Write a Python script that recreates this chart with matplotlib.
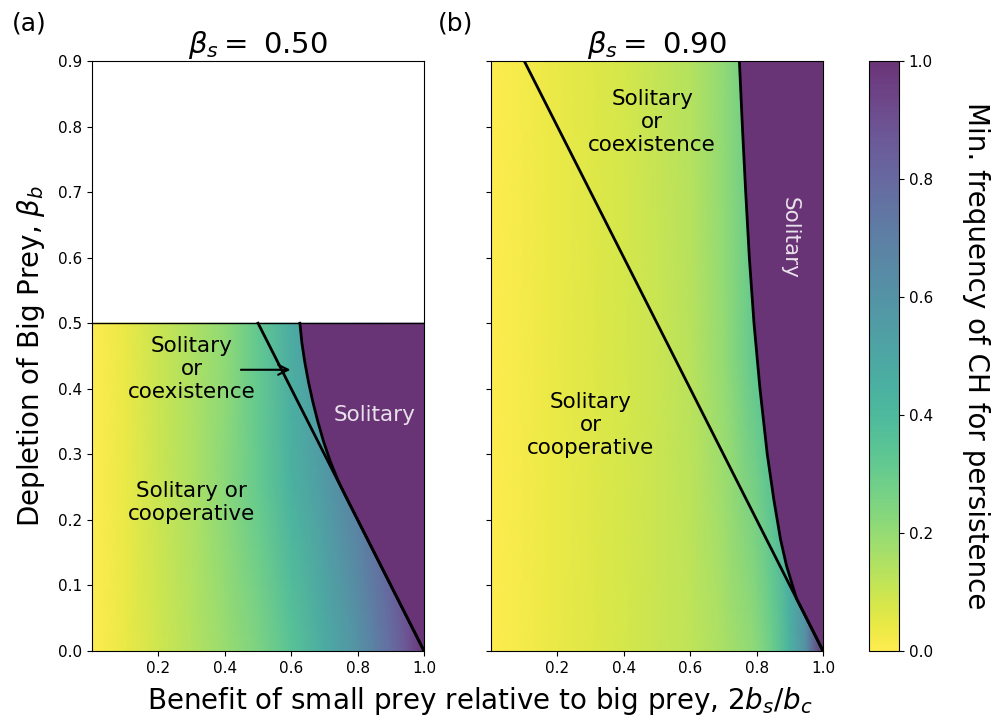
import matplotlib.pyplot as plt
import numpy as np
from matplotlib.colors import ListedColormap

# depletion of small prey for each panel
beta_s = [0.50, 0.90]

# sampled min. frequency of CH (rows: beta_b, columns: 2 b_s / b_c)
xs = np.array([0.0, 0.1, 0.2, 0.3, 0.4, 0.5, 0.6, 0.7, 0.8, 0.85, 0.9, 0.95, 1.0])

ys_a = np.array([0.0, 0.25, 0.5])
freq_a = np.array([
    [0.0, 0.04, 0.09, 0.14, 0.19, 0.25, 0.35, 0.47, 0.60, 0.69, 0.78, 0.88, 1.0],
    [0.0, 0.04, 0.10, 0.15, 0.22, 0.31, 0.44, 0.56, 0.70, 0.78, 0.86, 0.93, 1.0],
    [0.0, 0.04, 0.10, 0.15, 0.21, 0.32, 0.47, 0.60, 0.73, 0.80, 0.87, 0.94, 1.0],
])

ys_b = np.array([0.0, 0.45, 0.9])
freq_b = np.array([
    [0.0, 0.02, 0.04, 0.06, 0.08, 0.10, 0.12, 0.16, 0.22, 0.30, 0.44, 0.62, 1.0],
    [0.0, 0.02, 0.04, 0.06, 0.08, 0.10, 0.13, 0.20, 0.33, 0.40, 0.52, 0.70, 1.0],
    [0.0, 0.02, 0.04, 0.06, 0.08, 0.11, 0.14, 0.21, 0.32, 0.42, 0.55, 0.75, 1.0],
])

# boundary between cooperative and coexistence (beta_b = 1 - x)
line_a_x = [0.5, 1.0]
line_a_y = [0.5, 0.0]
line_b_x = [0.1, 1.0]
line_b_y = [0.9, 0.0]

# persistence boundary of CH
curve_a_x = [0.626, 0.632, 0.641, 0.652, 0.665, 0.680, 0.697, 0.717, 0.741, 0.765, 0.80, 1.0]
curve_a_y = [0.50, 0.47, 0.44, 0.41, 0.38, 0.35, 0.32, 0.29, 0.26, 0.235, 0.20, 0.0]
curve_b_x = [0.748, 0.757, 0.767, 0.778, 0.792, 0.810, 0.832, 0.852, 0.872, 0.89, 0.908, 0.92, 1.0]
curve_b_y = [0.90, 0.80, 0.70, 0.60, 0.50, 0.40, 0.30, 0.23, 0.17, 0.13, 0.10, 0.08, 0.0]

# viridis_r washed out towards white
alpha = 0.8
base = plt.get_cmap('viridis_r')(np.linspace(0, 1, 256))[:, :3]
cmap = ListedColormap(base * alpha + (1 - alpha))
purple = cmap(1.0)

fig = plt.figure(figsize=(9.95, 7.21), dpi=100)
ax1 = fig.add_axes([0.0925, 0.0971, 0.3337, 0.8183])
ax2 = fig.add_axes([0.4935, 0.0971, 0.3337, 0.8183])
cax = fig.add_axes([0.8734, 0.0971, 0.0302, 0.8183])

panels = [
    (ax1, ys_a, freq_a, line_a_x, line_a_y, curve_a_x, curve_a_y),
    (ax2, ys_b, freq_b, line_b_x, line_b_y, curve_b_x, curve_b_y),
]
for i, (ax, ys, freq, lx, ly, cx, cy) in enumerate(panels):
    X, Y = np.meshgrid(xs, ys)
    mesh = ax.pcolormesh(X, Y, freq, shading='gouraud', cmap=cmap, vmin=0, vmax=1)
    ax.fill_betweenx(cy, cx, 1.0, color=purple, lw=0)
    ax.plot(lx, ly, color='k', lw=2)
    ax.plot(cx, cy, color='k', lw=2)
    ax.set_xlim(0, 1)
    ax.set_ylim(0, 0.9)
    ax.set_xticks([0.2, 0.4, 0.6, 0.8, 1.0])
    ax.set_yticks(np.arange(0, 0.91, 0.1))
    ax.tick_params(labelsize=11)
    ax.set_title(r'$\beta_s = $ %.2f' % beta_s[i], fontsize=21, pad=5)

ax1.axhline(0.5, color='k', lw=1)
ax2.tick_params(labelleft=False)

# panel (a) annotations
ax1.text(0.30, 0.43, 'Solitary\nor\ncoexistence', ha='center', va='center', fontsize=15.5)
ax1.annotate('', xy=(0.606, 0.429), xytext=(0.44, 0.429),
             arrowprops=dict(arrowstyle='->', color='k', lw=1.5, mutation_scale=18))
ax1.text(0.30, 0.226, 'Solitary or\ncooperative', ha='center', va='center', fontsize=15.5)
ax1.text(0.85, 0.36, 'Solitary', ha='center', va='center', fontsize=15.5,
         color='white', alpha=0.85)

# panel (b) annotations
ax2.text(0.485, 0.807, 'Solitary\nor\ncoexistence', ha='center', va='center', fontsize=15.5)
ax2.text(0.30, 0.345, 'Solitary\nor\ncooperative', ha='center', va='center', fontsize=15.5)
ax2.text(0.90, 0.63, 'Solitary', ha='center', va='center', fontsize=15.5,
         color='white', alpha=0.85, rotation=270)

ax1.set_ylabel(r'Depletion of Big Prey, $\beta_b$', fontsize=20, labelpad=8)
fig.text(0.482, 0.006, r'Benefit of small prey relative to big prey, $2b_s/b_c$',
         ha='center', va='bottom', fontsize=20)

cb = fig.colorbar(mesh, cax=cax)
cb.set_ticks(np.arange(0, 1.01, 0.2))
cb.ax.tick_params(labelsize=11)
cb.set_label('Min. frequency of CH for persistence', fontsize=20,
             rotation=270, labelpad=41)

fig.text(0.012, 0.958, '(a)', fontsize=18)
fig.text(0.44, 0.958, '(b)', fontsize=18)

plt.savefig('out.png', dpi=100)
